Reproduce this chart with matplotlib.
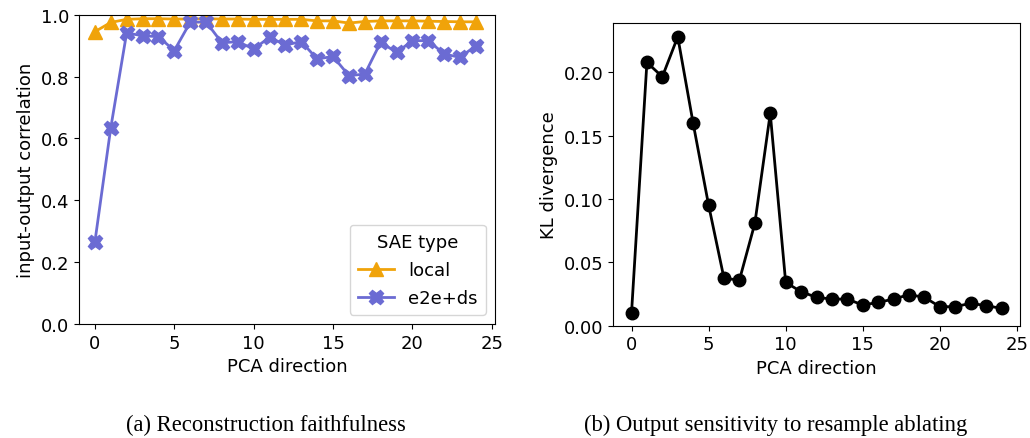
import matplotlib
matplotlib.use("Agg")
import matplotlib.pyplot as plt

pca_direction = list(range(25))

corr_local = [0.945, 0.975, 0.985, 0.987, 0.987, 0.986, 0.986, 0.987, 0.986, 0.986,
              0.985, 0.985, 0.985, 0.985, 0.980, 0.980, 0.973, 0.978, 0.980, 0.980,
              0.980, 0.979, 0.978, 0.977, 0.977]
corr_e2e_ds = [0.265, 0.634, 0.941, 0.932, 0.929, 0.884, 0.975, 0.977, 0.909, 0.913,
               0.889, 0.927, 0.902, 0.913, 0.857, 0.865, 0.803, 0.808, 0.911, 0.878,
               0.916, 0.916, 0.873, 0.862, 0.900]

kl_divergence = [0.0098, 0.2077, 0.1964, 0.2279, 0.1596, 0.0952, 0.0374, 0.0360, 0.0807, 0.1675,
                 0.0342, 0.0268, 0.0224, 0.0210, 0.0210, 0.0163, 0.0184, 0.0210, 0.0245, 0.0224,
                 0.0150, 0.0150, 0.0177, 0.0158, 0.0137]

series_names = ["local", "e2e+ds"]
series_colors = ["#F0A30A", "#6B6BD3"]

plt.rcParams["font.size"] = 13
plt.rcParams["font.family"] = "DejaVu Sans"

fig = plt.figure(figsize=(10.30, 4.39), dpi=100)
W, H = 1030, 439

def px_axes(x0, y0, x1, y1):
    return fig.add_axes([x0 / W, 1 - y1 / H, (x1 - x0) / W, (y1 - y0) / H])

# (a) reconstruction faithfulness
ax1 = px_axes(79, 15.7, 495, 325)
ax1.plot(pca_direction, corr_local, marker="^", color=series_colors[0],
         markersize=10.5, linewidth=2, label=series_names[0])
ax1.plot(pca_direction, corr_e2e_ds, marker="X", color=series_colors[1],
         markersize=10.5, linewidth=2, label=series_names[1])
ax1.set_ylim(0, 1)
ax1.set_xlim(-1.0, 25.2)
ax1.set_xticks([0, 5, 10, 15, 20, 25])
ax1.set_xlabel("PCA direction")
ax1.set_ylabel("input-output correlation")
ax1.legend(title="SAE type", loc="lower right", fontsize=13, title_fontsize=13,
           labelspacing=0.55, borderpad=0.45)

# (b) output sensitivity
ax2 = px_axes(613, 24, 1020, 326.7)
ax2.plot(pca_direction, kl_divergence, marker="o", color="black",
         markersize=9, linewidth=2)
ax2.set_ylim(bottom=0)
ax2.set_xticks([0, 5, 10, 15, 20, 25])
ax2.set_yticks([0.0, 0.05, 0.10, 0.15, 0.20])
ax2.set_yticklabels(["0.00", "0.05", "0.10", "0.15", "0.20"])
ax2.set_xlabel("PCA direction")
ax2.set_ylabel("KL divergence")

fig.text(266 / W, 1 - 425 / H, "(a) Reconstruction faithfulness",
         family="Liberation Serif", fontsize=16.3, ha="center", va="center")
fig.text(776 / W, 1 - 425 / H, "(b) Output sensitivity to resample ablating",
         family="Liberation Serif", fontsize=16.3, ha="center", va="center")

fig.savefig("out.png", dpi=100)
